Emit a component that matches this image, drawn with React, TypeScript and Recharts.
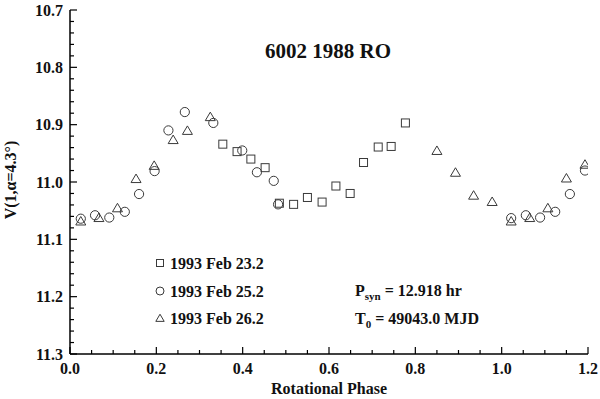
import { ScatterChart, Scatter, XAxis, YAxis } from "recharts";

// night of 1993 Feb 23.2 (squares)
const feb23Phase = [0.354, 0.387, 0.419, 0.452, 0.485, 0.518, 0.55, 0.584, 0.616, 0.649, 0.68, 0.714, 0.744, 0.777];
const feb23Mag = [10.934, 10.947, 10.96, 10.975, 11.037, 11.039, 11.027, 11.035, 11.007, 11.02, 10.966, 10.939, 10.938, 10.897];

// night of 1993 Feb 25.2 (circles)
const feb25Phase = [0.025, 0.058, 0.091, 0.127, 0.16, 0.196, 0.228, 0.266, 0.332, 0.399, 0.433, 0.472, 0.482, 1.022, 1.056, 1.089, 1.124, 1.158, 1.193];
const feb25Mag = [11.064, 11.058, 11.062, 11.052, 11.021, 10.981, 10.91, 10.878, 10.897, 10.945, 10.983, 10.998, 11.039, 11.063, 11.058, 11.062, 11.052, 11.021, 10.98];

// night of 1993 Feb 26.2 (triangles)
const feb26Phase = [0.025, 0.067, 0.11, 0.153, 0.195, 0.239, 0.272, 0.325, 0.85, 0.893, 0.935, 0.978, 1.022, 1.065, 1.107, 1.15, 1.193];
const feb26Mag = [11.068, 11.062, 11.045, 10.994, 10.971, 10.926, 10.91, 10.886, 10.945, 10.983, 11.023, 11.034, 11.068, 11.062, 11.045, 10.993, 10.969];

const xMajor = [0, 0.2, 0.4, 0.6, 0.8, 1.0, 1.2];
const yMajor = [10.7, 10.8, 10.9, 11.0, 11.1, 11.2, 11.3];

const legendLabels = ["1993 Feb 23.2", "1993 Feb 25.2", "1993 Feb 26.2"];
const title = "6002 1988 RO";

const FONT = "Liberation Serif";
const INK = "#3a3a3a";

const xTicks: number[] = [];
for (let i = 0; i <= 24; i++) xTicks.push(+(i * 0.05).toFixed(2));
const yTicks: number[] = [];
for (let i = 0; i <= 30; i++) yTicks.push(+(10.7 + i * 0.02).toFixed(2));

const isMajor = (v: number, list: number[]) => list.some((m) => Math.abs(m - v) < 1e-6);

const toPoints = (xs: number[], ys: number[]) => xs.map((x, i) => ({ x, y: ys[i] }));

const Square = ({ cx, cy, s = 4 }: any) => (
  <rect x={cx - s} y={cy - s} width={2 * s} height={2 * s} fill="none" stroke={INK} strokeWidth={1} />
);
const Circle = ({ cx, cy, s = 4.6 }: any) => (
  <circle cx={cx} cy={cy} r={s} fill="none" stroke={INK} strokeWidth={1} />
);
const Triangle = ({ cx, cy, s = 5 }: any) => (
  <polygon
    points={`${cx - s},${cy + s * 0.8} ${cx + s},${cy + s * 0.8} ${cx},${cy - s * 0.9}`}
    fill="none"
    stroke={INK}
    strokeWidth={1}
  />
);

const Label = ({ children, ...rest }: any) => (
  <text fontFamily={FONT} fontWeight="bold" fontSize={16} fill="#111" {...rest}>
    {children}
  </text>
);

const BottomTick = ({ x, y, payload }: any) => {
  const major = isMajor(payload.value, xMajor);
  return (
    <g>
      <line x1={x} y1={y} x2={x} y2={y - (major ? 7 : 4)} stroke="#000" strokeWidth={1.2} />
      {major && (
        <Label x={x} y={y + 20} textAnchor="middle">
          {payload.value.toFixed(1)}
        </Label>
      )}
    </g>
  );
};
const TopTick = ({ x, y, payload }: any) => (
  <line x1={x} y1={y} x2={x} y2={y + (isMajor(payload.value, xMajor) ? 7 : 4)} stroke="#000" strokeWidth={1.2} />
);
const LeftTick = ({ x, y, payload }: any) => {
  const major = isMajor(payload.value, yMajor);
  return (
    <g>
      <line x1={x} y1={y} x2={x + (major ? 7 : 4)} y2={y} stroke="#000" strokeWidth={1.2} />
      {major && (
        <Label x={x - 7} y={y + 5.5} textAnchor="end">
          {payload.value.toFixed(1)}
        </Label>
      )}
    </g>
  );
};
const RightTick = ({ x, y, payload }: any) => (
  <line x1={x} y1={y} x2={x - (isMajor(payload.value, yMajor) ? 7 : 4)} y2={y} stroke="#000" strokeWidth={1.2} />
);

export default function App() {
  const legendY = [263, 291, 318];
  const legendShapes = [Square, Circle, Triangle];
  return (
    <div style={{ position: "absolute", left: 0, top: 0, width: 600, height: 399, background: "#fff" }}>
      <ScatterChart width={600} height={399} margin={{ top: 10, right: 12, left: 0, bottom: 0 }}>
        <XAxis
          xAxisId="b"
          dataKey="x"
          type="number"
          domain={[0, 1.2]}
          ticks={xTicks}
          interval={0}
          height={45}
          tickSize={0}
          tickMargin={0}
          tick={<BottomTick />}
          axisLine={{ stroke: "#000", strokeWidth: 1.5 }}
          allowDataOverflow
        />
        <XAxis
          xAxisId="t"
          orientation="top"
          dataKey="x"
          type="number"
          domain={[0, 1.2]}
          ticks={xTicks}
          interval={0}
          height={0}
          tickSize={0}
          tickMargin={0}
          tick={<TopTick />}
          axisLine={{ stroke: "#000", strokeWidth: 1.5 }}
          allowDataOverflow
        />
        <YAxis
          yAxisId="l"
          dataKey="y"
          type="number"
          domain={[10.7, 11.3]}
          reversed
          ticks={yTicks}
          interval={0}
          width={70}
          tickSize={0}
          tickMargin={0}
          tick={<LeftTick />}
          axisLine={{ stroke: "#000", strokeWidth: 1.5 }}
          allowDataOverflow
        />
        <YAxis
          yAxisId="r"
          orientation="right"
          dataKey="y"
          type="number"
          domain={[10.7, 11.3]}
          reversed
          ticks={yTicks}
          interval={0}
          width={0}
          tickSize={0}
          tickMargin={0}
          tick={<RightTick />}
          axisLine={{ stroke: "#000", strokeWidth: 1.5 }}
          allowDataOverflow
        />
        <Scatter
          xAxisId="b"
          yAxisId="l"
          data={toPoints(feb23Phase, feb23Mag)}
          shape={(p: any) => <Square cx={p.cx} cy={p.cy} />}
          isAnimationActive={false}
        />
        <Scatter
          xAxisId="b"
          yAxisId="l"
          data={toPoints(feb25Phase, feb25Mag)}
          shape={(p: any) => <Circle cx={p.cx} cy={p.cy} />}
          isAnimationActive={false}
        />
        <Scatter
          xAxisId="b"
          yAxisId="l"
          data={toPoints(feb26Phase, feb26Mag)}
          shape={(p: any) => <Triangle cx={p.cx} cy={p.cy} />}
          isAnimationActive={false}
        />
      </ScatterChart>
      <svg width={600} height={399} style={{ position: "absolute", left: 0, top: 0, pointerEvents: "none" }}>
        <Label x={328} y={58} textAnchor="middle" fontSize={21}>
          {title}
        </Label>
        {legendLabels.map((label, i) => {
          const Shape = legendShapes[i];
          return (
            <g key={label}>
              <Shape cx={160} cy={legendY[i]} s={i === 1 ? 4 : i === 0 ? 3.5 : 4.2} />
              <Label x={170} y={legendY[i] + 6}>
                {label}
              </Label>
            </g>
          );
        })}
        <Label x={355} y={296}>
          P<tspan fontSize={11} dy={4}>syn</tspan>
          <tspan dy={-4}> = 12.918 hr</tspan>
        </Label>
        <Label x={355} y={324}>
          T<tspan fontSize={11} dy={4}>0</tspan>
          <tspan dy={-4}> = 49043.0 MJD</tspan>
        </Label>
        <Label x={329} y={394} textAnchor="middle">
          Rotational Phase
        </Label>
        <Label x={16} y={180} textAnchor="middle" transform="rotate(-90,16,180)">
          V(1,α=4.3°)
        </Label>
      </svg>
    </div>
  );
}
